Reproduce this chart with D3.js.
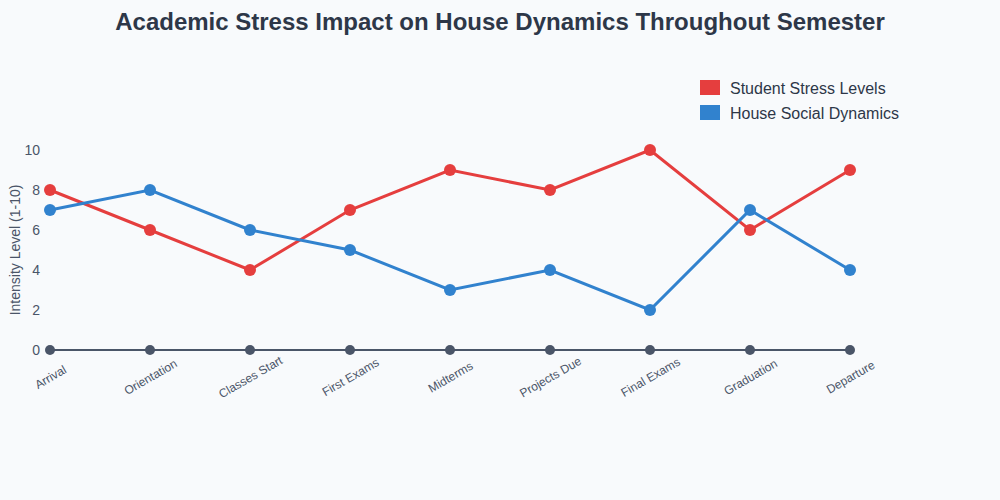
<!DOCTYPE html>
<html><head><meta charset="utf-8">
<script src="https://cdn.jsdelivr.net/npm/d3@7"></script>
<style>body{margin:0;background:#f8fafc;font-family:"Liberation Sans",Arial,sans-serif;}</style>
</head><body><svg id="c" width="1000" height="500"></svg>
<script>
const categories = ["Arrival","Orientation","Classes Start","First Exams","Midterms","Projects Due","Final Exams","Graduation","Departure"];
const stressValues = [8,6,4,7,9,8,10,6,9];
const socialValues = [7,8,6,5,3,4,2,7,4];
const baselineValues = [0,0,0,0,0,0,0,0,0];
const yTicks = [0,2,4,6,8,10];
const seriesNames = ["Student Stress Levels","House Social Dynamics"];
const seriesColors = ["#e53e3e","#3182ce"];

const svg = d3.select("#c");
svg.append("rect").attr("width",1000).attr("height",500).attr("fill","#f8fafc");
svg.append("text").attr("x",500).attr("y",30).attr("text-anchor","middle")
  .attr("font-size",24).attr("font-weight","bold").attr("fill","#2d3748")
  .text("Academic Stress Impact on House Dynamics Throughout Semester");

const x = d3.scalePoint().domain(categories).range([50,850]);
const y = d3.scaleLinear().domain([0,10]).range([350,150]);

const yAxis = svg.append("g").attr("transform","translate(40,0)")
  .call(d3.axisLeft(y).tickValues(yTicks).tickSize(0).tickPadding(0));
yAxis.select(".domain").remove();
yAxis.selectAll("text").attr("font-size",14).attr("fill","#4a5568").attr("font-family","Liberation Sans, Arial, sans-serif");

svg.append("text").attr("transform","translate(20,250) rotate(-90)").attr("text-anchor","middle")
  .attr("font-size",14).attr("fill","#4a5568").text("Intensity Level (1-10)");

const xAxis = svg.append("g").attr("transform","translate(0,350)")
  .call(d3.axisBottom(x).tickSize(0).tickPadding(0));
xAxis.select(".domain").remove();
xAxis.selectAll("text").attr("font-size",12).attr("fill","#4a5568").attr("font-family","Liberation Sans, Arial, sans-serif")
  .attr("text-anchor","middle").attr("dy","0.35em").attr("y",0).attr("x",0)
  .attr("transform","translate(0,27) rotate(-30)");

const line = d3.line().x((d,i)=>x(categories[i])).y(d=>y(d));

function drawSeries(vals,color,w,r){
  svg.append("path").datum(vals).attr("d",line).attr("fill","none").attr("stroke",color).attr("stroke-width",w);
  svg.append("g").selectAll("circle").data(vals).join("circle")
    .attr("cx",(d,i)=>x(categories[i])).attr("cy",d=>y(d)).attr("r",r).attr("fill",color);
}
drawSeries(baselineValues,"#4a5568",2,5);
drawSeries(stressValues,seriesColors[0],3,6);
drawSeries(socialValues,seriesColors[1],3,6);

const leg = svg.append("g");
seriesNames.forEach((n,i)=>{
  leg.append("rect").attr("x",700).attr("y",80+i*25).attr("width",20).attr("height",15).attr("fill",seriesColors[i]);
  leg.append("text").attr("x",730).attr("y",88+i*25).attr("dy","0.35em").attr("font-size",16).attr("fill","#2d3748").text(n);
});
</script></body></html>
